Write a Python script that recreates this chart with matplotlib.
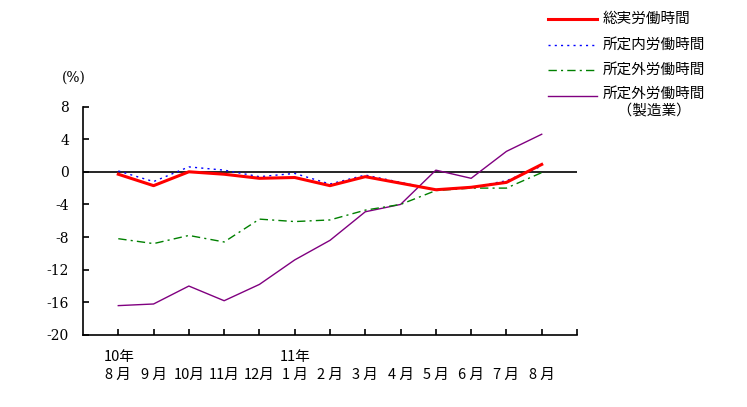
import matplotlib
matplotlib.use("Agg")
import matplotlib.pyplot as plt
from matplotlib.lines import Line2D

plt.rcParams['font.family'] = ['Noto Sans CJK JP', 'DejaVu Sans']

months = ["8 月", "9 月", "10月", "11月", "12月", "1 月", "2 月", "3 月", "4 月", "5 月", "6 月", "7 月", "8 月"]
years = {0: "10年", 5: "11年"}

total = [-0.3, -1.7, 0.0, -0.3, -0.8, -0.7, -1.7, -0.6, -1.4, -2.2, -1.9, -1.3, 0.9]
scheduled = [0.1, -1.2, 0.6, 0.2, -0.6, -0.2, -1.5, -0.4, -1.3, -2.2, -1.9, -1.1, 0.7]
overtime = [-8.2, -8.8, -7.8, -8.6, -5.8, -6.1, -5.9, -4.7, -4.0, -2.3, -2.0, -2.0, -0.1]
overtime_mfg = [-16.4, -16.2, -14.0, -15.8, -13.8, -10.8, -8.4, -4.9, -4.0, 0.2, -0.8, 2.5, 4.6]

labels = ["総実労働時間", "所定内労働時間", "所定外労働時間", "所定外労働時間\n　（製造業）"]
yticks = [8, 4, 0, -4, -8, -12, -16, -20]

W, H = 747, 407
fig = plt.figure(figsize=(W / 100, H / 100), dpi=100)
ax = fig.add_axes([83 / W, (H - 335) / H, (577 - 83) / W, (335 - 106.5) / H])

x = list(range(1, len(months) + 1))
styles = [
    dict(color='#ff0000', lw=2.2, linestyle='-'),
    dict(color='#0000ff', lw=1.0, linestyle=(0, (1.5, 3))),
    dict(color='#008000', lw=1.0, linestyle=(0, (6, 3, 1.5, 3))),
    dict(color='#800080', lw=1.0, linestyle='-'),
]
series = [total, scheduled, overtime, overtime_mfg]

ax.axhline(0, color='black', lw=1.2, zorder=1)
for k in [3, 2, 1, 0]:
    ax.plot(x, series[k], zorder=2 + (3 - k), **styles[k])

ax.set_xlim(0, 14)
ax.set_ylim(-20, 8)
ax.set_yticks(yticks)
ax.set_yticklabels([str(v) for v in yticks], fontsize=10, family=['DejaVu Serif'])
ax.set_xticks(list(range(1, 15)))
ax.set_xticklabels([])
ax.tick_params(axis='both', direction='in', length=4, width=1.2, color='black')
ax.tick_params(axis='y', pad=10)
for s in ['top', 'right']:
    ax.spines[s].set_visible(False)
for s in ['left', 'bottom']:
    ax.spines[s].set_linewidth(1.2)

for i, m in enumerate(months):
    ax.annotate(m, xy=(x[i], -20), xytext=(0, -40), textcoords='offset pixels',
                ha='center', va='center', fontsize=10.5, annotation_clip=False)
for idx, yl in years.items():
    ax.annotate(yl, xy=(x[idx], -20), xytext=(-15, -22), textcoords='offset pixels',
                ha='left', va='center', fontsize=10.5, annotation_clip=False)

fig.text(62 / W, (H - 78) / H, "(%)", fontsize=10, ha='left', va='center', family=['DejaVu Serif'])

# legend (manual)
leg_rows = [19, 45, 70, 96]
for yy, st, lab in zip(leg_rows, styles, labels):
    yf = (H - yy) / H
    fig.add_artist(Line2D([548 / W, 597 / W], [yf, yf], transform=fig.transFigure, **st))
    if '\n' in lab:
        fig.text(603 / W, yf + 9 / H, lab, fontsize=10.5, ha='left', va='top', linespacing=1.2)
    else:
        fig.text(603 / W, yf, lab, fontsize=10.5, ha='left', va='center')

fig.savefig("out.png", dpi=100)
